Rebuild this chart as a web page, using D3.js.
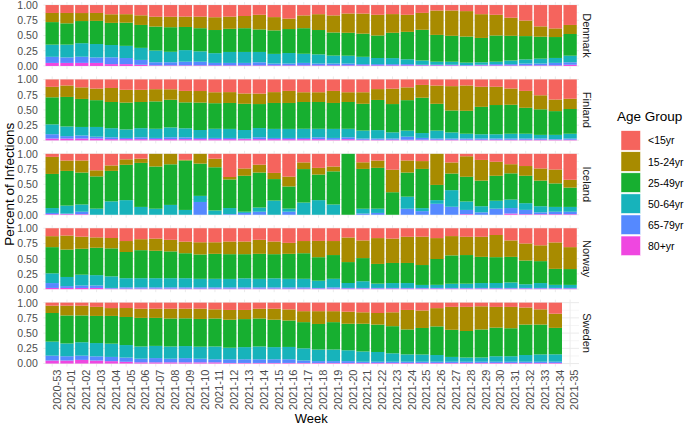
<!DOCTYPE html>
<html><head><meta charset="utf-8">
<script src="https://cdn.jsdelivr.net/npm/d3@7"></script>
<style>
html,body{margin:0;padding:0;background:#fff;}
svg{display:block;font-family:"Liberation Sans",Arial,Helvetica,sans-serif;}
</style></head>
<body>
<svg id="chart" width="685" height="426"></svg>
<script>
const weeks = ["2020-53","2021-01","2021-02","2021-03","2021-04","2021-05","2021-06","2021-07","2021-08","2021-09","2021-10","2021-11","2021-12","2021-13","2021-14","2021-15","2021-16","2021-17","2021-18","2021-19","2021-20","2021-21","2021-22","2021-23","2021-24","2021-25","2021-26","2021-27","2021-28","2021-29","2021-30","2021-31","2021-32","2021-33","2021-34","2021-35"];
const ageGroups = ["<15yr","15-24yr","25-49yr","50-64yr","65-79yr","80+yr"];
const ageColors = ["#F5645D","#A88B00","#17AF30","#17B3BB","#5589FF","#EF47E0"];
const countries = ["Denmark","Finland","Iceland","Norway","Sweden"];
const yTicks = [0,0.25,0.5,0.75,1];
const yTickLabels = ["0.00","0.25","0.50","0.75","1.00"];

// Denmark (percent by age group)
const dk_u15 = [13,13,13,13,15,15,17,19,19,19,19,20,19,18,16,20,22,17,15,17,14,14,16,15,16,13,9,9,10,15,16,21,26,35,38,33];
const dk_15_24 = [15,17,13,13,14,14,16,16,17,17,19,21,20,20,24,22,17,21,26,28,32,33,34,31,28,28,40,42,42,39,34,30,26,17,14,15];
const dk_25_49 = [37,35,36,38,36,38,38,39,40,38,38,38,38,39,37,39,39,42,40,38,38,38,37,42,45,51,44,43,43,40,43,41,39,36,34,36];
const dk_50_64 = [20,21,22,22,20,20,20,19,17,19,17,16,18,18,17,16,17,15,15,13,13,12,10,10,8,7,5,5,4,4,4,6,7,8,8,11];
const dk_65_79 = [10,9,10,9,11,10,8,5,5,6,6,4,4,4,5,3,3,4,3,3,3,2,2,2,2,1,1,1,1,1,2,2,3,3,4,4];
const dk_80 = [5,5,5,5,3,3,2,1,1,1,1,1,1,1,1,1,1,1,1,1,1,1,1,1,1,1,1,1,0.5,1,1,1,1,1,1,2];

// Finland
const fi_u15 = [12,10,13,15,14,17,17,16,16,19,19,21,21,23,23,21,19,21,21,19,21,21,16,15,13,9,10,11,10,12,12,15,19,26,33,32];
const fi_15_24 = [17,19,19,19,23,21,20,20,17,19,19,18,18,17,17,18,20,16,16,20,16,19,18,25,21,21,30,40,42,33,30,27,28,23,19,17];
const fi_25_49 = [44,49,46,44,43,44,43,45,45,43,45,42,43,43,39,43,43,44,44,43,44,44,50,46,50,58,44,36,38,45,48,48,43,42,39,41];
const fi_50_64 = [16,16,14,16,15,14,15,15,16,15,13,15,15,14,15,15,15,15,14,15,14,13,14,10,10,8,13,10,8,7,7,8,8,6,7,8];
const fi_65_79 = [7,4,5,3,3,2,3,2,3,3,2,2,2,1,3,2,2,2,3,3,3,2,2,2,5,3,2,2,2,2,2,2,2,2,1,2];
const fi_80 = [3,3,3,3,2,2,2,2,2,2,2,2,2,2,2,2,2,2,2,1,2,1,1,1,1,1,1,1,1,1,1,1,1,1,1,1];

// Iceland
const is_u15 = [5,11,11,27,19,9,8,0,0,10,0,8,38,24,18,31,37,14,23,21,0,14,11,26,11,12,0,14,4,10,13,17,20,24,26,43];
const is_15_24 = [28,17,20,10,9,9,7,21,17,1,16,14,4,12,13,10,16,11,11,8,0,11,12,37,20,13,51,18,34,34,23,15,16,20,23,13];
const is_25_49 = [56,57,53,53,50,58,73,70,66,82,53,71,47,59,58,35,36,55,42,55,100,66,67,37,40,65,25,27,41,42,41,43,45,42,39,32];
const is_50_64 = [8,13,12,10,22,24,13,10,16,8,10,7,10,2,7,23,5,20,24,17,0,8,7,0,20,5,6,27,14,10,13,14,11,10,8,8];
const is_65_79 = [2,1,4,0,0,0,0,0,0,0,21,0,1,3,5,0,5,0,0,0,0,2,3,0,10,6,18,13,7,4,10,9,7,3,4,4];
const is_80 = [1,1,1,0,0,0,0,0,0,0,0,0,0,0,0,0,0,0,0,0,0,0,0,0,0,0,0,0,1,0,0,2,1,1,1,1];

// Norway
const no_u15 = [13,12,14,15,16,21,18,17,19,22,23,23,22,22,19,22,24,21,21,21,15,20,16,17,14,14,16,13,14,14,11,20,25,28,23,31];
const no_15_24 = [18,23,20,17,17,18,18,20,19,19,20,19,21,21,23,21,18,20,27,23,40,29,42,40,43,47,34,32,30,33,36,27,28,26,43,36];
const no_25_49 = [43,45,43,45,46,43,46,45,44,41,40,41,41,40,41,40,41,42,39,39,34,38,32,33,33,33,42,47,47,43,42,42,39,36,26,26];
const no_50_64 = [16,15,18,17,19,15,15,15,15,15,14,14,14,15,14,15,14,14,12,14,8,11,7,8,8,5,5,7,7,8,8,9,6,8,5,5];
const no_65_79 = [8,3,4,4,1,2,2,2,2,2,2,2,2,2,2,2,2,2,1,2,1,1,1,1,1,1,1,1,1,1,1,1,1,1,1,1];
const no_80 = [2,2,2,2,1,1,1,1,1,1,1,1,1,1,1,1,1,1,1,1,1,1,1,1,1,1,1,1,1,1,1,1,1,1,1,1];

// Sweden (no data for 2021-35)
const se_u15 = [5,5,5,7,9,9,10,10,10,10,10,11,12,12,10,10,11,14,14,14,15,16,17,16,12,13,9,7,7,6,7,7,8,11,18,null];
const se_15_24 = [12,16,16,15,13,15,15,15,16,16,17,15,16,15,16,18,18,18,21,18,20,19,19,23,32,29,30,38,40,38,34,35,28,25,23,null];
const se_25_49 = [47,46,44,45,46,47,47,46,46,46,46,46,46,46,46,45,43,43,42,45,44,46,45,45,41,44,47,45,44,46,47,46,50,49,43,null];
const se_50_64 = [23,21,22,22,22,21,20,20,20,20,20,21,19,20,21,20,20,20,19,19,18,17,16,14,12,12,11,8,7,7,9,9,11,12,12,null];
const se_65_79 = [8,7,7,7,7,7,6,7,6,7,6,5,6,6,6,6,6,4,3,3,3,2,2,2,2,2,2,2,2,2,2,2,2,2,2,null];
const se_80 = [5,5,6,5,4,3,2,2,2,2,2,2,1,1,1,1,1,1,1,1,1,1,1,1,1,1,1,1,1,1,1,1,1,1,1,null];

const seriesByCountry = {
  Denmark: [dk_u15, dk_15_24, dk_25_49, dk_50_64, dk_65_79, dk_80],
  Finland: [fi_u15, fi_15_24, fi_25_49, fi_50_64, fi_65_79, fi_80],
  Iceland: [is_u15, is_15_24, is_25_49, is_50_64, is_65_79, is_80],
  Norway: [no_u15, no_15_24, no_25_49, no_50_64, no_65_79, no_80],
  Sweden: [se_u15, se_15_24, se_25_49, se_50_64, se_65_79, se_80]
};

const svg = d3.select("#chart");
const panelLeft = 43.3, panelRight = 579;
const panelTop0 = 2, panelStep = 74.4, panelH = 67;

const x = d3.scaleBand().domain(weeks).range([panelLeft, panelRight]).paddingInner(0.1).paddingOuter(0.15);
const color = d3.scaleOrdinal().domain(ageGroups).range(ageColors);

// stack order: bottom = 80+, top = <15
const stackKeys = ageGroups.slice().reverse();
const stack = d3.stack().keys(stackKeys).offset(d3.stackOffsetExpand);

countries.forEach((c, ci) => {
  const top = panelTop0 + ci * panelStep;
  const pad = panelH / 1.1 * 0.05;
  const y = d3.scaleLinear().domain([0, 1]).range([top + panelH - pad, top + pad]);
  const g = svg.append("g");

  // grid
  const minor = [0.125, 0.375, 0.625, 0.875];
  g.selectAll(".gmin").data(minor).enter().append("line")
    .attr("x1", panelLeft).attr("x2", panelRight)
    .attr("y1", d => y(d)).attr("y2", d => y(d))
    .attr("stroke", "#EBEBEB").attr("stroke-width", 0.5);
  g.selectAll(".gmaj").data(yTicks).enter().append("line")
    .attr("x1", panelLeft).attr("x2", panelRight)
    .attr("y1", d => y(d)).attr("y2", d => y(d))
    .attr("stroke", "#EBEBEB").attr("stroke-width", 1);
  g.selectAll(".gv").data(weeks).enter().append("line")
    .attr("x1", d => x(d) + x.bandwidth() / 2).attr("x2", d => x(d) + x.bandwidth() / 2)
    .attr("y1", top).attr("y2", top + panelH)
    .attr("stroke", "#EBEBEB").attr("stroke-width", 1);

  // data rows
  const arrs = seriesByCountry[c];
  const rows = weeks.map((w, i) => {
    const r = { week: w };
    ageGroups.forEach((a, ai) => { r[a] = arrs[ai][i]; });
    return r;
  }).filter(r => ageGroups.some(a => r[a] != null));
  const layers = stack(rows);

  layers.forEach(layer => {
    g.selectAll(null).data(layer).enter().append("rect")
      .attr("x", d => x(d.data.week))
      .attr("width", x.bandwidth())
      .attr("y", d => y(d[1]))
      .attr("height", d => Math.max(0, y(d[0]) - y(d[1])))
      .attr("fill", color(layer.key));
  });

  // y axis labels
  const ax = g.append("g").attr("transform", `translate(${panelLeft},0)`)
    .call(d3.axisLeft(y).tickValues(yTicks).tickFormat((d, i) => yTickLabels[i]).tickSize(0).tickPadding(5.5));
  ax.select(".domain").remove();
  ax.selectAll("text").attr("fill", "#4D4D4D").attr("font-size", "10.5px")
    .attr("font-family", "Liberation Sans, Arial, sans-serif");

  // strip label
  svg.append("text")
    .attr("transform", `translate(587,${top + panelH / 2}) rotate(90)`)
    .attr("text-anchor", "middle").attr("dominant-baseline", "central")
    .attr("font-size", "11px").attr("fill", "#1A1A1A").text(c);

  if (ci === countries.length - 1) {
    const xa = svg.append("g").attr("transform", `translate(0,${top + panelH})`)
      .call(d3.axisBottom(x).tickSize(0).tickPadding(0));
    xa.select(".domain").remove();
    xa.selectAll("text")
      .attr("transform", "translate(4.5,3) rotate(-90)")
      .attr("text-anchor", "end").attr("dy", "0.35em").attr("y", 0).attr("x", 0)
      .attr("fill", "#4D4D4D").attr("font-size", "11px")
      .attr("font-family", "Liberation Sans, Arial, sans-serif");
  }
});

// axis titles
svg.append("text").attr("x", (panelLeft + panelRight) / 2).attr("y", 423)
  .attr("text-anchor", "middle").attr("font-size", "13px").attr("fill", "#000").text("Week");
svg.append("text").attr("transform", `translate(14,${panelTop0 + (4 * panelStep + panelH) / 2}) rotate(-90)`)
  .attr("text-anchor", "middle").attr("font-size", "13.5px").attr("fill", "#000").text("Percent of Infections");

// legend
const lg = svg.append("g");
lg.append("text").attr("x", 617).attr("y", 121).attr("font-size", "13.5px").attr("fill", "#000").text("Age Group");
ageGroups.forEach((a, i) => {
  const yy = 130.7 + i * 21.07;
  lg.append("rect").attr("x", 621).attr("y", yy).attr("width", 19.5).attr("height", 19.5)
    .attr("fill", color(a)).attr("stroke", "#fff").attr("stroke-width", 0.5);
  lg.append("text").attr("x", 648).attr("y", yy + 9.75).attr("dominant-baseline", "central")
    .attr("font-size", "10.5px").attr("fill", "#000").text(a);
});
</script>
</body></html>
